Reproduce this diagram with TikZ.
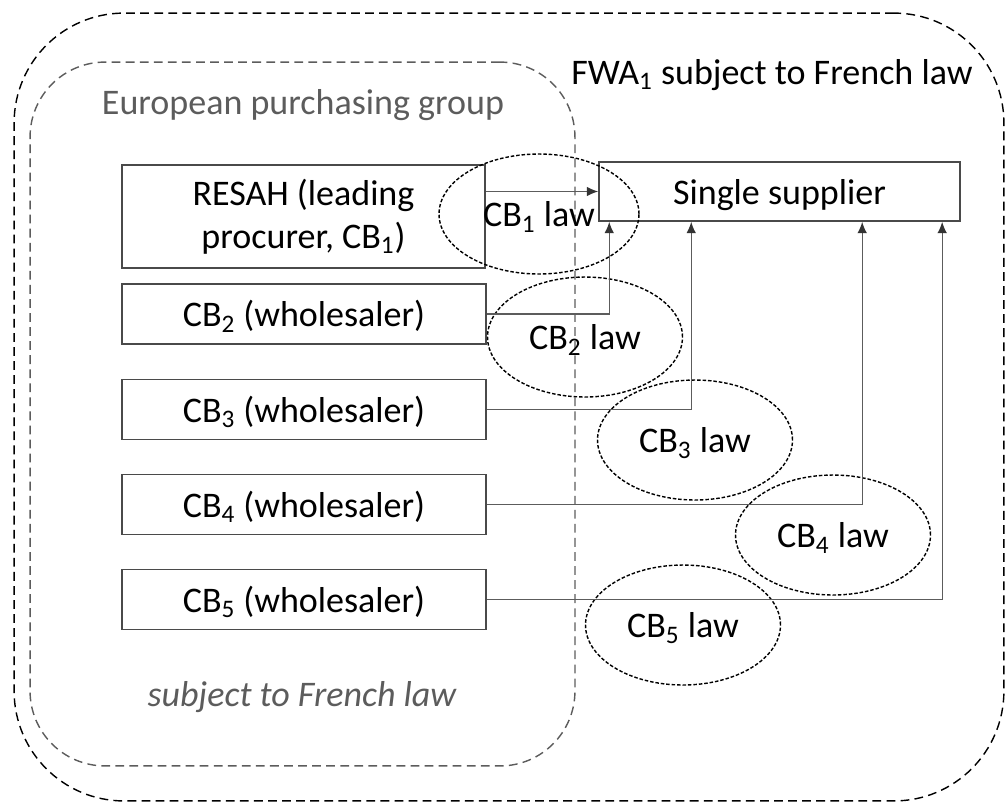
\documentclass[tikz,border=0pt]{standalone}
\usepackage{fontspec}
\setmainfont{Carlito}
\usepackage{xcolor}
\usepackage{tikz}
\usetikzlibrary{shapes,arrows.meta,calc}
\definecolor{cGray}{HTML}{5C5C5C}
\tikzstyle{tsText} = [ 
    text=black, 
    font=\fontsize{20.5}{24.6}\selectfont
]
\tikzstyle{tsOneLine} = [ 
    text height=14.5pt,
    text depth=0pt
]
\tikzstyle{tsBox} = [ 
    rectangle,
    tsText,
    align=center,
    draw=cGray!80!black,
    line width=0.9pt]
\tikzstyle{tsGroup} = [ 
    rectangle,
    line width=0.8pt,
    dash pattern=on 5pt off 3pt]
\tikzstyle{tsLaw} = [ 
    ellipse,
    tsText,
    tsOneLine,
    draw=black,
    line width=0.8pt,
    dash pattern=on 2pt off 1.1pt,
    inner sep=0pt,
    minimum width=3.9cm,
    minimum height=2.4cm]
\tikzstyle{tsArrow} = [ 
    draw=cGray,
    line width=0.75pt,
    -{Latex[length=6.5pt,width=5.5pt,color=black!80]}]

\begin{document}
\begin{tikzpicture}[x=0.02cm, y=-0.02cm]
        \useasboundingbox (0,0) rectangle (1007,806);
        
        \node[  tsGroup, 
                draw=black,
                rounded corners=2.2cm,
                minimum width=19.8cm,
                minimum height=15.76cm] (fwa) at (509,407) { };
        \node[  tsGroup, 
                draw=cGray,
                rounded corners=1.5cm,
                minimum width=10.9cm,
                minimum height=14.08cm] (group) at (302.5,414) { };
                
        \node[tsText] (fwaTitle) at (772,75) {FWA\textsubscript{1} subject to French law};
        \node[tsText, text=cGray] (groupTitle) at (303,105) {European purchasing group};
        \node[tsText, text=cGray, font=\fontsize{20.5}{24.6}\selectfont\itshape] (groupLaw) at (302,697) {subject to French law};
        
        \node[  tsBox, 
                minimum width=7.26cm,
                minimum height=2.06cm] (resah) at (303.5,216.5) {RESAH (leading\\procurer, CB\textsubscript{1})};
        \node[  tsBox, 
                tsOneLine,
                minimum width=7.22cm,
                minimum height=1.18cm] (supplier) at (779.5,191.5) {Single supplier};
                
        \foreach \i/\y in {2/314, 3/409.5, 4/504.5, 5/599.5}
            \node[tsBox, tsOneLine, minimum width=7.28cm, minimum height=1.2cm] (cb\i) at (304,\y) {CB\textsubscript{\i} (wholesaler)};
            
        \node[tsLaw, minimum width=4cm] (law1) at (539,214) {CB\textsubscript{1} law};
        \node[tsLaw] (law2) at (585,337) {CB\textsubscript{2} law};
        \node[tsLaw] (law3) at (695,440) {CB\textsubscript{3} law};
        \node[tsLaw] (law4) at (833,535) {CB\textsubscript{4} law};
        \node[tsLaw] (law5) at (683,625) {CB\textsubscript{5} law};
        
     	\draw[tsArrow] (resah.east |- supplier.west) -- (supplier.west);
     	\foreach \i/\dx in {2/0.22cm, 3/1.86cm, 4/5.28cm, 5/6.88cm}
     	    \draw[tsArrow] (cb\i.east) -| ([xshift=\dx]supplier.south west);
   	 	
\end{tikzpicture}
\end{document}
